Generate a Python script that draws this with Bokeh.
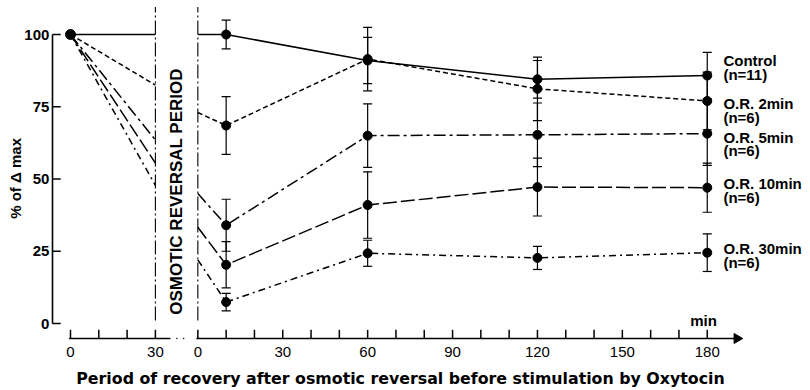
from bokeh.plotting import figure
from bokeh.models import Range1d
from bokeh.core.properties import value
from bokeh.embed import file_html
from bokeh.resources import INLINE

# ---------------- data ----------------
left_t = [0, 30]                      # osmotic reversal period (min)
right_t = [0, 10, 60, 120, 180]       # recovery period (min)
err_t = [10, 60, 120, 180]
RIGHT_OFFSET = 45                     # axis break: recovery 0 sits after the break

left_ticks = [0, 30]
right_ticks = [0, 30, 60, 90, 120, 150, 180]
y_ticks = [0, 25, 50, 75, 100]

names = ["Control", "O.R. 2min", "O.R. 5min", "O.R. 10min", "O.R. 30min"]
counts = ["(n=11)", "(n=6)", "(n=6)", "(n=6)", "(n=6)"]

ctrl_left = [100, 100]
ctrl_right = [100, 100, 91, 84.5, 85.8]
ctrl_err = [5, 8, 6.5, 8]

or2_left = [100, 82.5]
or2_right = [73, 68.5, 91.5, 81.2, 77]
or2_err = [10, 11, 11, 10]

or5_left = [100, 63.5]
or5_right = [45, 34, 65, 65.3, 65.7]
or5_err = [9, 11, 11, 11]

or10_left = [100, 55.5]
or10_right = [33.3, 20.3, 41, 47.2, 47]
or10_err = [8, 11.5, 10, 8.5]

or30_left = [100, 47.8]
or30_right = [22, 7.4, 24.3, 22.7, 24.5]
or30_err = [3, 4.5, 4, 6.5]

label_y = [91, 76.1, 64.4, 48.4, 26]
count_y = [86.2, 71.3, 59.9, 43.6, 21.1]

x_title = "Period of recovery after osmotic reversal before stimulation by Oxytocin"
y_title = "% of \u0394 max"
period_text = "OSMOTIC REVERSAL PERIOD"

series = [
    (ctrl_left, ctrl_right, ctrl_err, "solid"),
    (or2_left, or2_right, or2_err, "5 3"),
    (or5_left, or5_right, or5_err, "12 4 3 4"),
    (or10_left, or10_right, or10_err, "14 4"),
    (or30_left, or30_right, or30_err, "7 4 2 4"),
]

FONT = "Liberation Sans"
# the plotting frame covers the whole canvas; axes are drawn from the data scales
X0, X1 = -24.735, 261.484
Y0, Y1 = -23.183, 111.765

p = figure(width=810, height=390, output_backend="svg", toolbar_location=None,
           x_range=Range1d(X0, X1), y_range=Range1d(Y0, Y1),
           x_axis_type=None, y_axis_type=None,
           min_border_left=0, min_border_right=0, min_border_top=0, min_border_bottom=0,
           title=None)
p.outline_line_color = None
p.grid.visible = False

# ---------------- y axis ----------------
YAX_X = -6.36
p.line(x=[YAX_X, YAX_X], y=[y_ticks[0], y_ticks[-1]], line_color="black", line_width=1.6,
       line_dash="solid")
p.segment(x0=[YAX_X] * len(y_ticks), y0=y_ticks, x1=[YAX_X + 2.9] * len(y_ticks), y1=y_ticks,
          line_color="black", line_width=1.5, line_dash="solid")
p.text(x=[YAX_X - 1.1] * len(y_ticks), y=y_ticks, text=[str(v) for v in y_ticks],
       text_font=value(FONT), text_font_style="bold", text_font_size="15px",
       text_align="right", text_baseline="middle", text_color="black")
p.text(x=[-19.4], y=[50.2], text=[y_title], angle=1.5708,
       text_font=value(FONT), text_font_style="bold", text_font_size="15px",
       text_align="center", text_baseline="middle", text_color="black")

# ---------------- broken x axis ----------------
AX_Y = -5.19
major_pos = left_ticks + [RIGHT_OFFSET + t for t in right_ticks]
major_lab = [str(t) for t in left_ticks + right_ticks]
minor_pos = [10, 20] + [RIGHT_OFFSET + m for m in range(10, 181, 10) if m % 30 != 0]
all_xt = major_pos + minor_pos
p.segment(x0=all_xt, y0=[AX_Y] * len(all_xt), x1=all_xt, y1=[AX_Y + 3.0] * len(all_xt),
          line_color="black", line_width=1.5, line_dash="solid")
p.segment(x0=[-0.5, 44.5], y0=[AX_Y, AX_Y], x1=[35.3, 235.0], y1=[AX_Y, AX_Y],
          line_color="black", line_width=1.6, line_dash="solid")
p.scatter(x=[37.6, 40.0], y=[AX_Y, AX_Y], marker="dot", size=6, color="black")
p.scatter(x=[235.5], y=[AX_Y], marker="triangle", angle=-1.5708, size=10, color="black")
p.text(x=major_pos, y=[-10.0] * len(major_pos), text=major_lab,
       text_font=value(FONT), text_font_size="15px",
       text_align="center", text_baseline="middle", text_color="black")
p.text(x=[116.6], y=[-19.0], text=[x_title],
       text_font=value("DejaVu Sans"), text_font_style="bold", text_font_size="15.8px",
       text_align="center", text_baseline="middle", text_color="black")

# vertical dash-dot lines bounding the osmotic reversal period
p.segment(x0=[30, RIGHT_OFFSET], y0=[1, 1], x1=[30, RIGHT_OFFSET], y1=[109.5, 109.5],
          line_color="black", line_width=1.1, line_dash="14 3 2 3")

p.text(x=[37.5], y=[45.7], text=[period_text], angle=1.5708,
       text_font=value(FONT), text_font_style="bold", text_font_size="17px",
       text_align="center", text_baseline="middle", text_color="black")

# ---------------- series ----------------
CAP = 1.6   # half cap width in x data units
for lv, rv, ev, dash in series:
    p.line(x=left_t, y=lv, line_color="black", line_width=1.5, line_dash=dash)
    rx = [RIGHT_OFFSET + t for t in right_t]
    p.line(x=rx, y=rv, line_color="black", line_width=1.5, line_dash=dash)
    ex = [RIGHT_OFFSET + t for t in err_t]
    ey = rv[1:]
    up = [a + b for a, b in zip(ey, ev)]
    lo = [a - b for a, b in zip(ey, ev)]
    p.segment(x0=ex, y0=lo, x1=ex, y1=up, line_color="black", line_width=1.2, line_dash="solid")
    p.segment(x0=[x - CAP for x in ex] * 2, y0=up + lo, x1=[x + CAP for x in ex] * 2, y1=up + lo,
              line_color="black", line_width=1.2, line_dash="solid")
    p.scatter(x=ex, y=ey, size=9, color="black")

p.scatter(x=[left_t[0]], y=[ctrl_left[0]], size=10, color="black")

# right-hand labels
LX = 230.7
p.text(x=[LX] * 5, y=label_y, text=names, text_font=value(FONT), text_font_style="bold",
       text_font_size="15px", text_align="left", text_baseline="middle", text_color="black")
p.text(x=[LX] * 5, y=count_y, text=counts, text_font=value(FONT), text_font_style="bold",
       text_font_size="15px", text_align="left", text_baseline="middle", text_color="black")
p.text(x=[223.7], y=[1.0], text=["min"], text_font=value(FONT), text_font_style="bold",
       text_font_size="15px", text_align="center", text_baseline="middle", text_color="black")

open("out.html", "w").write(file_html(p, INLINE))
